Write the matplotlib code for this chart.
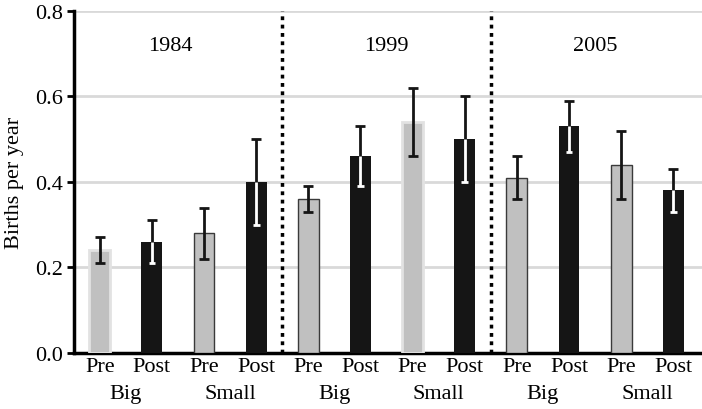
import matplotlib.pyplot as plt
import numpy as np

plt.rcParams['font.family'] = ['Liberation Serif', 'DejaVu Serif']

years = ['1984', '1999', '2005']
sizes = ['Big', 'Small']
periods = ['Pre', 'Post']
# births per year, ordered by year -> size -> period
births = [0.24, 0.26, 0.28, 0.40,
          0.36, 0.46, 0.54, 0.50,
          0.41, 0.53, 0.44, 0.38]
err_lo = [0.21, 0.21, 0.22, 0.30,
          0.33, 0.39, 0.46, 0.40,
          0.36, 0.47, 0.36, 0.33]
err_hi = [0.27, 0.31, 0.34, 0.50,
          0.39, 0.53, 0.62, 0.60,
          0.46, 0.59, 0.52, 0.43]

births = np.array(births)
err_lo = np.array(err_lo)
err_hi = np.array(err_hi)
x = np.arange(len(births))
is_post = x % 2 == 1
fs = 16

fig = plt.figure(figsize=(7.02, 4.10), dpi=100)
ax = fig.add_axes([0.105, 0.137, 0.895, 0.834])

gray_edges = ['#e2e2e2', None, '#3a3a3a', None,
              '#3a3a3a', None, '#e2e2e2', None,
              '#3a3a3a', None, '#3a3a3a', None]
for i in x:
    if is_post[i]:
        ax.bar(i, births[i], width=0.4, color='#151515', zorder=3)
    else:
        lw = 2.0 if gray_edges[i] == '#e2e2e2' else 1.0
        ax.bar(i, births[i], width=0.4, color='#c0c0c0',
               edgecolor=gray_edges[i], linewidth=lw, zorder=3)

ax.errorbar(x, births, yerr=[births - err_lo, err_hi - births], fmt='none',
            ecolor='#151515', elinewidth=2, capsize=3.5, capthick=2, zorder=4)
# inside the dark bars the lower whisker is white
ax.vlines(x[is_post], err_lo[is_post], births[is_post], color='white', lw=2, zorder=5)
ax.hlines(err_lo[is_post], x[is_post] - 0.065, x[is_post] + 0.065,
          color='white', lw=2, zorder=5)

for xv in [3.5, 7.5]:
    ax.plot([xv, xv], [0, 0.8], color='black', lw=2.5,
            linestyle=(0, (1.1, 1.3)), zorder=2)

for k, yr in enumerate(years):
    ax.text(4 * k + 1.5 - 0.15 * (k == 0), 0.72, yr, ha='center', va='center', fontsize=fs)

ax.set_xlim(-0.5, 11.55)
ax.set_ylim(0, 0.8)
ax.set_yticks(np.arange(0, 0.81, 0.2))
ax.set_yticklabels(['%.1f' % v for v in np.arange(0, 0.81, 0.2)], fontsize=fs)
ax.yaxis.grid(True, color='#d9d9d9', lw=2, zorder=0)
ax.set_axisbelow(True)
ax.set_xticks(x)
ax.set_xticklabels([periods[i % 2] for i in x], fontsize=fs)
ax.tick_params(axis='x', length=0, pad=3)
ax.tick_params(axis='y', length=5, width=2, direction='out', pad=3)
for i in range(0, len(x), 2):
    ax.text(i + 0.5, -0.094, sizes[(i // 2) % 2], ha='center', va='center',
            fontsize=fs, transform=ax.transData, clip_on=False)

ax.spines['top'].set_visible(False)
ax.spines['right'].set_visible(False)
ax.spines['left'].set_linewidth(2.5)
ax.spines['bottom'].set_linewidth(2.5)
ax.set_ylabel('Births per year', fontsize=fs, labelpad=8)

fig.savefig('out.png', dpi=100)
